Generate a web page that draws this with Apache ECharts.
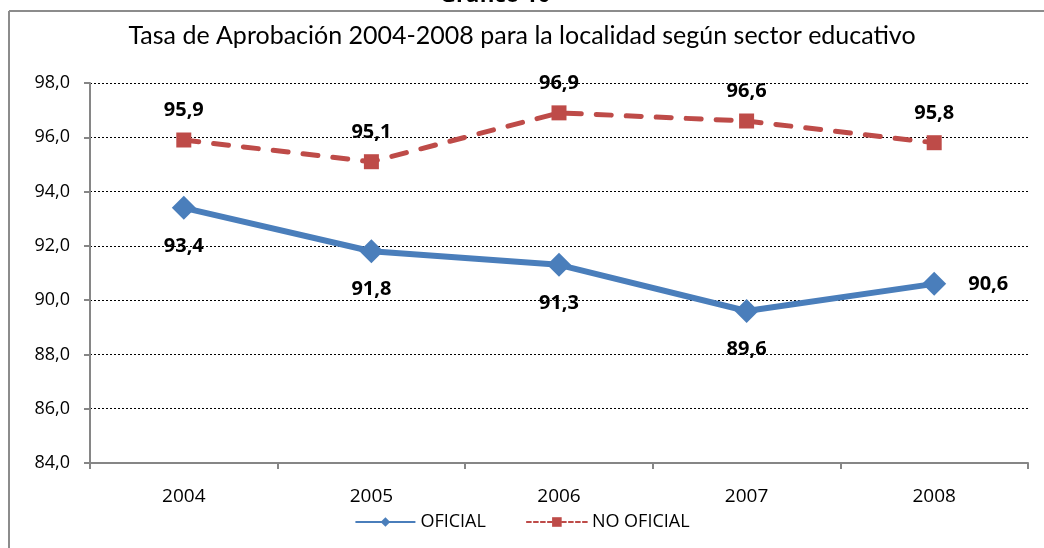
<!DOCTYPE html>
<html><head><meta charset="utf-8">
<script src="https://cdn.jsdelivr.net/npm/echarts@6/dist/echarts.min.js"></script>
<style>html,body{margin:0;padding:0;background:#fff}#c{width:1044px;height:548px}</style>
</head><body><div id="c"></div>
<script>
const years = ['2004','2005','2006','2007','2008'];
const oficial = [93.4, 91.8, 91.3, 89.6, 90.6];
const noOficial = [95.9, 95.1, 96.9, 96.6, 95.8];
const yTicks = {min: 84, max: 98, interval: 2};

const chart = echarts.init(document.getElementById('c'));
const fontFam = '"Open Sans", "DejaVu Sans", sans-serif';
const fmt = v => v.toFixed(1).replace('.', ',');
chart.setOption({
  animation: false,
  backgroundColor: '#fff',
  graphic: [
    {type: 'line', shape: {x1: 9, y1: 11, x2: 1044, y2: 11}, style: {stroke: '#8c8c8c', lineWidth: 2}},
    {type: 'line', shape: {x1: 9, y1: 11, x2: 9, y2: 548}, style: {stroke: '#8c8c8c', lineWidth: 2}},
    {type: 'text', left: 440, top: -15, style: {text: 'Gráfico 10', font: 'bold 22px ' + fontFam, fill: '#000'}}
  ],
  title: {
    text: 'Tasa de Aprobación 2004-2008 para la localidad según sector educativo',
    left: 'center', top: 18,
    textStyle: {fontFamily: 'Lato, "Liberation Sans", sans-serif', fontSize: 25, fontWeight: 'normal', color: '#000'}
  },
  grid: {left: 90, right: 16, top: 83, bottom: 85, containLabel: false},
  legend: {
    bottom: 12, left: 'center', itemGap: 40, itemWidth: 60, itemHeight: 12,
    textStyle: {fontFamily: fontFam, fontSize: 18, color: '#000'},
    data: [
      {name: 'OFICIAL', lineStyle: {width: 2}},
      {name: 'NO OFICIAL', lineStyle: {width: 2, type: [4, 3]}}
    ]
  },
  xAxis: {
    type: 'category', data: years, boundaryGap: true,
    axisLine: {lineStyle: {color: '#868686', width: 2}},
    axisTick: {show: true, length: 6, lineStyle: {color: '#868686', width: 2}},
    axisLabel: {fontFamily: fontFam, fontSize: 19, color: '#000', margin: 24}
  },
  yAxis: {
    type: 'value', min: yTicks.min, max: yTicks.max, interval: yTicks.interval,
    axisLine: {show: true, lineStyle: {color: '#868686', width: 2}},
    axisTick: {show: true, length: 6, lineStyle: {color: '#868686', width: 2}},
    axisLabel: {fontFamily: fontFam, fontSize: 18, color: '#000', margin: 20, formatter: fmt},
    splitLine: {show: true, lineStyle: {color: '#000', type: [2, 2], width: 1}}
  },
  series: [
    {
      name: 'OFICIAL', type: 'line',
      data: oficial.map((v, i) => i === 4 ? {value: v, label: {position: 'right', distance: 22}} : v),
      symbol: 'diamond', symbolSize: 24,
      lineStyle: {color: '#4A7EBB', width: 6},
      itemStyle: {color: '#4A7EBB'},
      label: {
        show: true, position: 'bottom', distance: 16,
        fontFamily: fontFam, fontSize: 20, fontWeight: 'bold', color: '#000',
        formatter: p => fmt(p.value)
      },
      z: 3
    },
    {
      name: 'NO OFICIAL', type: 'line', data: noOficial,
      symbol: 'rect', symbolSize: 15,
      lineStyle: {color: '#BE4B48', width: 5, type: [15, 15], cap: 'round'},
      itemStyle: {color: '#BE4B48'},
      label: {
        show: true, position: 'top', distance: 12,
        fontFamily: fontFam, fontSize: 20, fontWeight: 'bold', color: '#000',
        formatter: p => fmt(p.value)
      },
      z: 2
    }
  ]
});
</script></body></html>
